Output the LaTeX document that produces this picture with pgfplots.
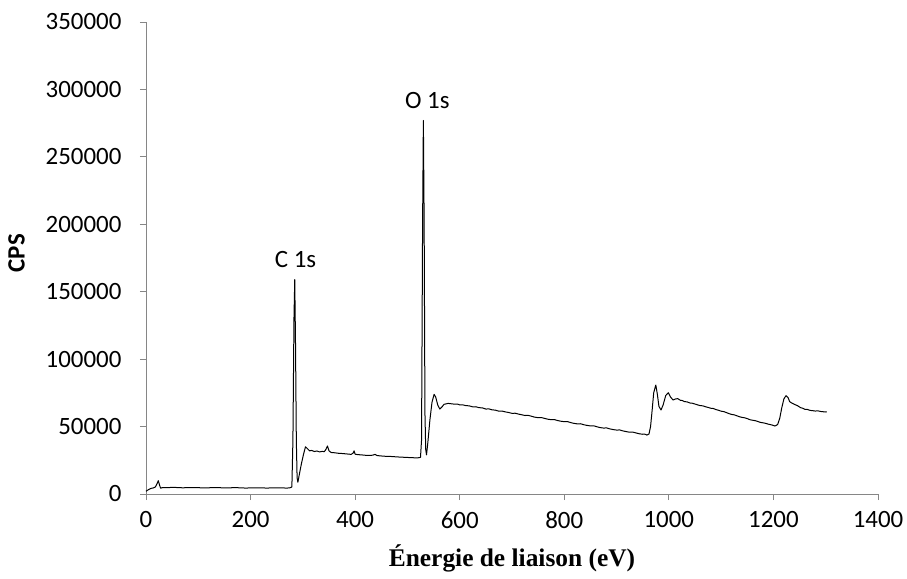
\documentclass[border=0pt]{standalone}
\usepackage{fontspec}
\setmainfont{Carlito}
\newfontfamily\timesfont{Liberation Serif}
\usepackage{pgfplots}
\pgfplotsset{compat=1.18}
\definecolor{axgray}{RGB}{134,134,134}
\begin{document}
\begin{tikzpicture}
\begin{axis}[
  scale only axis,
  width=732bp, height=472bp,
  xmin=0, xmax=1400, ymin=0, ymax=350000,
  axis x line=bottom, axis y line=left,
  axis line style={-, axgray, line width=0.8bp},
  tick style={axgray, line width=0.8bp},
  tick align=outside,
  major tick length=6bp,
  scaled y ticks=false, scaled x ticks=false,
  xtick={0,200,400,600,800,1000,1200,1400},
  xticklabels={0,200,400,600,800,1000,1200,1400},
  ytick={0,50000,100000,150000,200000,250000,300000,350000},
  yticklabels={0,50000,100000,150000,200000,250000,300000,350000},
  ticklabel style={font=\fontsize{25}{30}\selectfont, text=black},
  yticklabel style={xshift=-15bp},
  xticklabel style={yshift=-8bp},
  xlabel={\timesfont\bfseries\fontsize{25.5}{30}\selectfont Énergie de liaison (eV)},
  ylabel={\bfseries\fontsize{25}{30}\selectfont CPS},
  xlabel style={yshift=-9bp},
  ylabel style={at={(ticklabel cs:0.51)}, yshift=14bp},
  clip=false,
]
\addplot[black, line width=1bp, line join=round] coordinates {
(0,2000)(3,2800)(6,3500)(10,4200)(14,4500)(18,5200)(21,7500)(23.5,9900)(26,6500)(28,4300)
(32,4800)(40,4700)(50,4900)(60,4800)(70,4600)(80,4700)(90,4800)(100,4700)(110,4500)(120,4600)
(130,4800)(140,4700)(150,4500)(160,4600)(170,4700)(180,4600)(190,4400)(200,4500)(210,4600)
(220,4600)(230,4400)(240,4500)(250,4600)(260,4500)(270,4400)(275,4600)(279,5200)
(281,40000)(283,130000)(284.5,159000)(286,110000)(287.5,40000)(289,12000)(290.5,8700)
(293,14000)(297,22000)(301,29000)(305,35000)(309,33500)(313,32000)(317,32300)(322,31500)
(327,31900)(332,31200)(337,31600)(341,31400)(344,33000)(347,35600)(350,32000)(354,30800)
(360,30600)(368,30200)(376,30000)(384,29700)(392,29400)(396,30200)(398,32000)(400,29500)
(405,29200)(412,29000)(420,28700)(428,28600)(434,28800)(438,29400)(442,28500)(450,28200)
(460,27900)(470,27800)(480,27500)(490,27300)(500,27100)(510,26900)(520,26800)(525,27200)
(527,40000)(529,200000)(530.5,277000)(532,200000)(533.5,60000)(535,33000)(536.5,29000)
(539,38000)(543,55000)(547,68000)(551,73900)(554,72000)(558,66000)(562,63000)(566,64500)
(570,66500)(578,67200)(584,66900)(590,66600)(596,66700)(600,66000)(606,66100)(612,65500)
(618,65400)(625,64600)(631,64700)(637,64000)(643,63900)(650,63000)(656,63100)(662,62400)
(668,62200)(675,61400)(681,61500)(687,60900)(693,60500)(700,59800)(706,59900)(712,59300)
(718,58800)(725,58200)(731,58300)(737,57700)(743,57000)(750,56600)(756,56700)(762,56100)
(768,55500)(775,55100)(781,55200)(787,54500)(793,54000)(800,53600)(806,53700)(812,53000)
(818,52400)(825,52000)(831,52100)(837,51400)(843,50900)(850,50500)(856,50600)(862,49900)
(868,49300)(875,48900)(881,49000)(887,48300)(893,47800)(900,47400)(906,47500)(912,46800)
(918,46300)(925,45800)(931,45900)(937,45300)(943,44700)(950,44300)(954,44400)
(958,43700)(962,44500)(965,50000)(968,62000)(971,75000)(975,80800)(978,74000)(981,65000)
(985,62300)(989,66000)(994,73000)(999,75100)(1003,72000)(1008,69700)(1013,70500)(1017,70700)
(1022,69500)(1026,69300)(1030,68500)(1035,68300)(1040,67500)(1045,67300)(1050,66700)
(1055,66100)(1060,65500)(1065,65400)(1070,64700)(1075,64200)(1080,63600)(1085,63400)
(1090,62600)(1095,62100)(1100,61400)(1105,61100)(1110,60400)(1115,59600)(1120,59000)
(1125,58700)(1130,58000)(1135,57300)(1140,56800)(1145,56500)(1150,55900)(1155,55100)
(1160,54700)(1165,54400)(1170,53800)(1175,53100)(1180,52800)(1185,52400)(1190,51800)
(1197,51200)(1203,50400)(1208,51500)
(1212,56000)(1216,64000)(1220,70500)(1224,72900)(1228,71500)(1231,68500)(1234,67700)
(1240,66500)(1246,65500)(1252,64000)(1256,63600)(1260,62800)(1265,62700)(1270,62000)
(1275,61800)(1280,61500)(1285,61700)(1290,61200)(1295,61000)(1300,60800)(1302,61000)
};
\node[anchor=base, font=\fontsize{25}{30}\selectfont] at (axis cs:286,167600) {C 1s};
\node[anchor=base, font=\fontsize{25}{30}\selectfont] at (axis cs:538,286200) {O 1s};
\end{axis}
\useasboundingbox ([shift={(-146bp,-85bp)}]current axis.south west) rectangle ([shift={(29bp,22bp)}]current axis.north east);
\end{tikzpicture}
\end{document}
